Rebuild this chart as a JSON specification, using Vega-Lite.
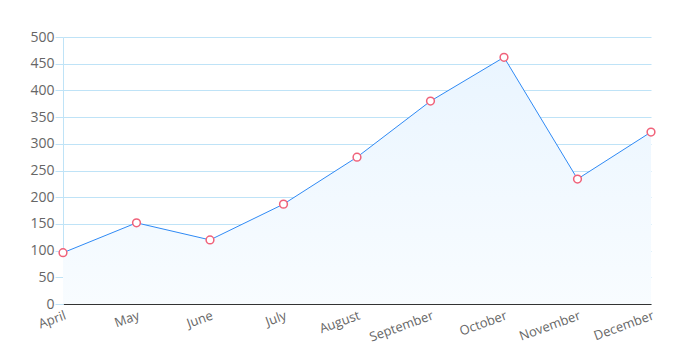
{
  "$schema": "https://vega.github.io/schema/vega-lite/v6.json",
  "autosize": {"type": "none"},
  "width": 588,
  "height": 267,
  "padding": {"left": 63, "top": 37, "right": 34, "bottom": 53},
  "background": "white",
  "config": {"view": {"stroke": null}, "font": "Open Sans"},
  "data": {"values": [
    {"month": "April", "value": 96},
    {"month": "May", "value": 152},
    {"month": "June", "value": 120},
    {"month": "July", "value": 187},
    {"month": "August", "value": 275},
    {"month": "September", "value": 380},
    {"month": "October", "value": 462},
    {"month": "November", "value": 234},
    {"month": "December", "value": 322}
  ]},
  "encoding": {
    "x": {"field": "month", "type": "ordinal", "sort": null,
      "scale": {"type": "point", "padding": 0},
      "axis": {"title": null, "labelAngle": -20, "labelAlign": "right", "labelBaseline": "top",
        "labelColor": "#666", "labelFontSize": 13, "ticks": false, "labelPadding": 5,
        "domainColor": "#333", "domainWidth": 1, "grid": false}},
    "y": {"field": "value", "type": "quantitative",
      "scale": {"domain": [0, 500], "nice": false},
      "axis": {"title": null, "values": [0,50,100,150,200,250,300,350,400,450,500],
        "labelColor": "#666", "labelFontSize": 14, "tickColor": "#bfe3f7", "tickSize": 8,
        "labelPadding": 1, "domainColor": "#bfe3f7", "gridColor": "#bfe3f7", "gridOpacity": 1}}
  },
  "layer": [
    {"mark": {"type": "area", "line": false,
      "color": {"gradient": "linear", "x1": 0, "y1": 0, "x2": 0, "y2": 1,
        "stops": [{"offset": 0, "color": "#eaf5ff"}, {"offset": 1, "color": "#f8fcff"}]}}},
    {"mark": {"type": "line", "color": "#2f8af5", "strokeWidth": 1}},
    {"mark": {"type": "point", "filled": false, "fill": "white", "fillOpacity": 1, "stroke": "#f0627a", "strokeWidth": 1.5, "size": 60, "opacity": 1}}
  ]
}
